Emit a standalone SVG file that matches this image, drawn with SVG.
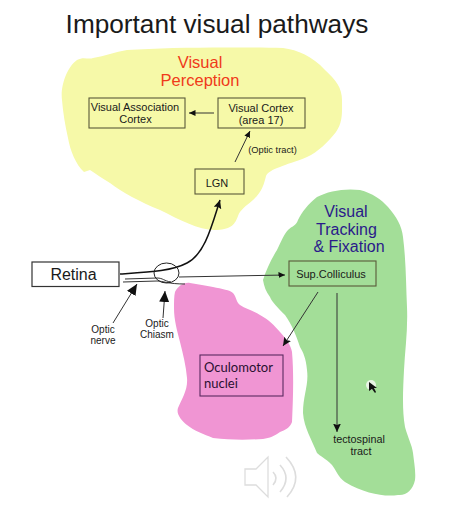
<svg xmlns="http://www.w3.org/2000/svg" width="453" height="517" viewBox="0 0 453 517">
<defs>
<marker id="ah" markerUnits="userSpaceOnUse" markerWidth="8" markerHeight="8" refX="6.5" refY="3" orient="auto"><path d="M0 0L6.5 3L0 6z" fill="#111"/></marker>
<marker id="am" markerUnits="userSpaceOnUse" markerWidth="10" markerHeight="10" refX="8.5" refY="4" orient="auto"><path d="M0 0L8.5 4L0 8L1.5 4z" fill="#111"/></marker>
<marker id="al" markerUnits="userSpaceOnUse" markerWidth="14" markerHeight="12" refX="11" refY="5" orient="auto"><path d="M0 0L11 5L0 10z" fill="#111"/></marker>
</defs>
<style>
text{font-family:"Liberation Sans",Arial,sans-serif;text-anchor:middle;fill:#1a1a1a}
.b{fill:none;stroke:#5a5a3a;stroke-width:1.1}
.c{fill:none;stroke:#333;stroke-width:1}
.n{font-size:11px}
.h{font-size:16px;fill:#2a1a8a}
.r{font-size:16.5px;fill:#f03a1a}
.l{font-size:10px}
.o{font-family:Lato,"Open Sans",sans-serif;font-size:13px;text-anchor:start;fill:#2a1030}
.s{fill:#fff;stroke:#ddd;stroke-width:1.3}
.a{fill:none;stroke:#ddd;stroke-width:1.6}
</style>
<rect width="453" height="517" fill="#fff"/>
<path id="yellow-region" fill="#f6f9a8" d="M62 100C60 85 68 66 77 60C84 56 88 60 93 58C105 56 115 52 127 50C170 47 235 47 283 48C298 50 312 56 325 70C336 80 342 88 342 100C342 112 343 122 336 132C328 142 318 152 307 157C296 162 286 164 280 167C272 170 268 172 266 176C264 184 262 192 253 200C246 206 240 210 238 216C235 224 232 229 217 230C200 231 180 220 160 210C140 202 122 192 110 183C102 178 96 174 90 170L84 172C76 165 70 150 68 138C65 125 63 112 62 100Z"/>
<path id="green-region" fill="#a3de98" d="M263 280C266 270 272 258 277 250C281 242 284 234 288 230C292 226 296 226 298 220C302 212 308 204 317 197C328 191 345 188 360 190C372 193 382 200 388 207C396 216 402 226 403 237C406 260 406 285 407 307C408 330 405 350 404 370C403 390 402 410 405 427C408 438 412 445 413 453C414 462 416 472 415 480C413 490 406 496 398 495C385 497 365 494 345 482C338 477 336 470 332 465C325 458 320 456 317 453C312 440 304 428 303 413C303 395 309 385 307 370C306 358 303 352 300 347C296 335 292 325 285 315C278 308 272 302 270 297C266 292 264 286 263 280Z"/>
<path id="pink-region" fill="#f095d3" d="M175 292C178 286 184 282 190 283C198 284 206 286 213 287C222 289 230 290 233 293C237 298 236 302 240 305C246 309 254 311 260 315C268 319 275 326 280 332C286 339 291 345 292 352C294 375 293 400 292 422C290 428 285 430 280 432C274 436 270 438 263 439C246 440 230 440 213 438C204 434 194 431 187 425C181 420 176 414 178 408C182 398 188 390 187 378C186 366 183 354 180 342C177 330 174 320 174 308C174 302 174 296 175 292Z"/>
<text x="217" y="33" font-size="26.2px">Important visual pathways</text>
<g id="connectors">
<path class="c" style="stroke-width:1.5;stroke:#111" d="M120 274C150 272 172 271 187 263C205 254 212 225 220 200" marker-end="url(#am)"/>
<path class="c" d="M125 279L157 278C163 278 164 281 171 282"/>
<path class="c" d="M123 282L157 281C163 281 168 284 185 284"/>
<path class="c" d="M179 277L285 275" marker-end="url(#ah)"/>
<ellipse class="c" cx="166.500" cy="273" rx="12.500" ry="10" style="stroke:#222"/>
<path class="c" d="M113 323L137 284" marker-end="url(#al)"/>
<path class="c" d="M163 318L165 291" marker-end="url(#al)"/>
<path class="c" d="M235 162L250 131" marker-end="url(#ah)"/>
<path class="c" d="M214 113L189 113" marker-end="url(#ah)"/>
<path class="c" d="M318 292L283 346" marker-end="url(#am)"/>
<path class="c" d="M337 293L337 432" marker-end="url(#am)"/>
</g>
<g id="retina"><rect x="32" y="262" width="87" height="24.500" fill="#fff" stroke="#333" stroke-width="1.2"/><text x="73.500" y="279.500" font-size="16px">Retina</text></g>
<g id="visual-perception"><text class="r" x="200" y="68">Visual</text><text class="r" x="200" y="86">Perception</text></g>
<g id="visual-association-cortex"><rect class="b" x="89" y="98" width="96" height="30"/><text class="n" x="135" y="111">Visual Association</text><text class="n" x="135.500" y="123">Cortex</text></g>
<g id="visual-cortex"><rect class="b" x="218" y="98" width="87" height="30"/><text class="n" x="261" y="112">Visual Cortex</text><text class="n" x="261" y="124">(area 17)</text></g>
<text x="272.500" y="153" font-size="9.300px">(Optic tract)</text>
<g id="lgn"><rect class="b" x="195" y="169" width="49" height="25"/><text class="n" x="217" y="187">LGN</text></g>
<g id="visual-tracking"><text class="h" x="346" y="217">Visual</text><text class="h" x="346.500" y="235">Tracking</text><text class="h" x="349" y="252">&amp; Fixation</text></g>
<g id="sup-colliculus"><rect class="b" x="289" y="261" width="87" height="25"/><text class="n" x="331" y="278">Sup.Colliculus</text></g>
<g id="oculomotor"><rect class="b" x="200" y="355" width="83" height="41" style="stroke:#5a2a60"/><text class="o" x="204" y="372">Oculomotor</text><text class="o" x="204" y="388">nuclei</text></g>
<text x="359" y="443" style="font-size:10.800px">tectospinal</text>
<text x="361" y="455" style="font-size:10.800px">tract</text>
<text class="l" x="103" y="333">Optic</text><text class="l" x="103" y="344">nerve</text>
<text class="l" x="157" y="327">Optic</text><text class="l" x="157" y="338">Chiasm</text>
<g id="speaker-icon"><path class="s" d="M245 469L256 469L268 457L268 497L256 485L245 485Z"/><path class="a" d="M273 472Q279 478 273 485"/><path class="a" d="M280 465Q292 478 280 492"/><path class="a" d="M286 457Q305 477 287 497"/></g>
<g id="cursor"><circle cx="371" cy="385" r="5" fill="#e8f4e4"/><path d="M369 382L369 391L372 389L375 393L376 392L374 388L377 388Z" fill="#111"/></g>
</svg>
